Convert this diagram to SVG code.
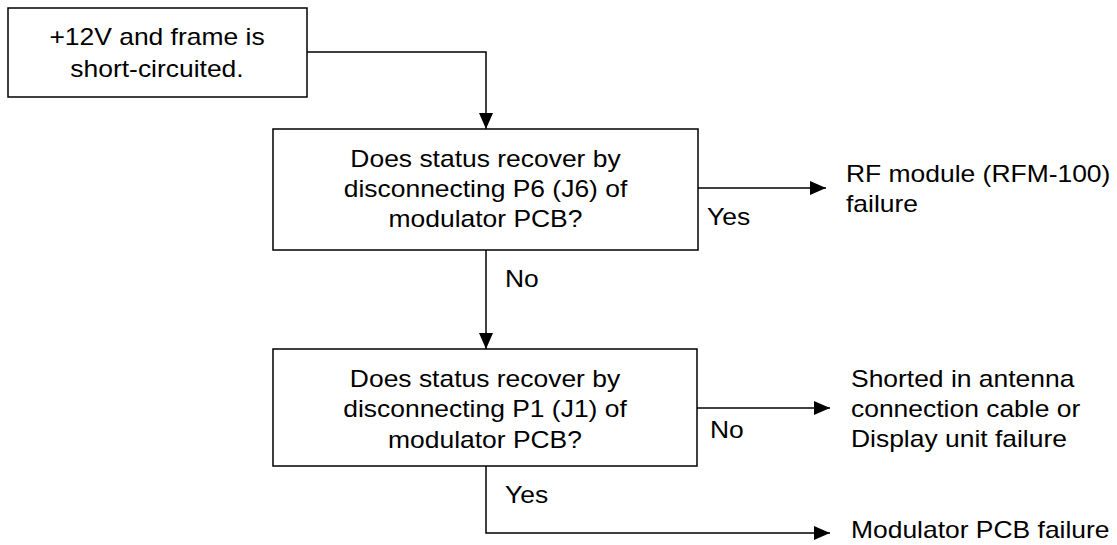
<svg xmlns="http://www.w3.org/2000/svg" width="1117" height="545" viewBox="0 0 1117 545">
<defs>
<marker id="ah" viewBox="0 0 16 14" refX="16" refY="7" markerWidth="16" markerHeight="14" markerUnits="userSpaceOnUse" orient="auto">
<path d="M0,0 L16,7 L0,14 Z" fill="#000"/>
</marker>
</defs>
<style>
text{font-family:"Liberation Sans",Arial,sans-serif;font-size:23px;fill:#000}
.c{text-anchor:middle}
.box{fill:#fff;stroke:#000;stroke-width:1.5}
.ln{fill:none;stroke:#000;stroke-width:1.5}
</style>
<rect width="1117" height="545" fill="#fff"/>
<g id="connectors">
<path class="ln" d="M307,52 H486 V129" marker-end="url(#ah)"/>
<path class="ln" d="M486,250 V349" marker-end="url(#ah)"/>
<path class="ln" d="M698,188 H826" marker-end="url(#ah)"/>
<path class="ln" d="M697,408 H830" marker-end="url(#ah)"/>
<path class="ln" d="M486,466 V533 H830" marker-end="url(#ah)"/>
<text transform="translate(707,225) scale(1.15,1)">Yes</text>
<text transform="translate(505,287) scale(1.15,1)">No</text>
<text transform="translate(710,438) scale(1.15,1)">No</text>
<text transform="translate(505,503) scale(1.15,1)">Yes</text>
</g>
<g id="start">
<rect class="box" x="8" y="8" width="299" height="89"/>
<text class="c" transform="translate(157,45) scale(1.15,1)">+12V and frame is</text>
<text class="c" transform="translate(157,77) scale(1.15,1)">short-circuited.</text>
</g>
<g id="q1">
<rect class="box" x="273" y="129" width="425" height="121"/>
<text class="c" transform="translate(485.5,167) scale(1.15,1)">Does status recover by</text>
<text class="c" transform="translate(485.5,197) scale(1.15,1)">disconnecting P6 (J6) of</text>
<text class="c" transform="translate(485.5,227) scale(1.15,1)">modulator PCB?</text>
</g>
<g id="q2">
<rect class="box" x="273" y="349" width="424" height="117"/>
<text class="c" transform="translate(485,387) scale(1.15,1)">Does status recover by</text>
<text class="c" transform="translate(485,417) scale(1.15,1)">disconnecting P1 (J1) of</text>
<text class="c" transform="translate(485,448) scale(1.15,1)">modulator PCB?</text>
</g>
<g id="rf">
<text transform="translate(846,182) scale(1.15,1)">RF module (RFM-100)</text>
<text transform="translate(846,212) scale(1.15,1)">failure</text>
</g>
<g id="shorted">
<text transform="translate(851,387) scale(1.15,1)">Shorted in antenna</text>
<text transform="translate(851,417) scale(1.15,1)">connection cable or</text>
<text transform="translate(851,447) scale(1.15,1)">Display unit failure</text>
</g>
<g id="modfail">
<text transform="translate(851,538) scale(1.15,1)">Modulator PCB failure</text>
</g>
</svg>
